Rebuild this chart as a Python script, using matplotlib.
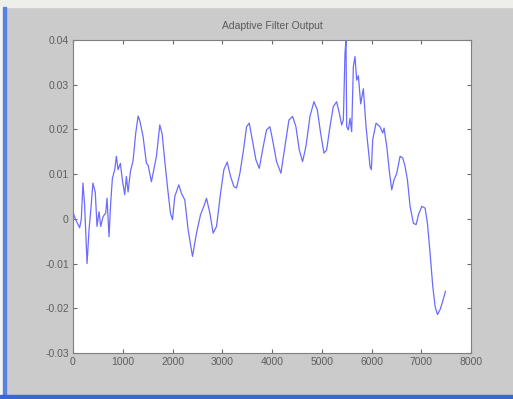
import matplotlib
matplotlib.use("Agg")
import matplotlib.pyplot as plt
from matplotlib.patches import Rectangle
import numpy as np

plt.rcParams['font.family'] = ['Liberation Sans', 'DejaVu Sans']

# samples
n = [0, 54, 134, 167, 200, 234, 282, 322, 369, 400, 447, 483, 523, 557, 604, 657, 684,
     724, 757, 791, 838, 872, 905, 952, 992, 1040, 1073, 1107, 1154, 1207, 1261, 1308,
     1341, 1408, 1476, 1509, 1576, 1623, 1677, 1744, 1791, 1844, 1898, 1958, 1999, 2046,
     2126, 2180, 2247, 2314, 2401, 2482, 2562, 2629, 2683, 2750, 2817, 2884, 2965, 3032,
     3099, 3166, 3233, 3286, 3354, 3421, 3488, 3542, 3602, 3676, 3743, 3823, 3890, 3957,
     4010, 4091, 4178, 4259, 4339, 4413, 4480, 4547, 4614, 4681, 4762, 4842, 4909, 4976,
     5043, 5097, 5164, 5231, 5298, 5352, 5399, 5433, 5466, 5486, 5500, 5533, 5567, 5600,
     5634, 5667, 5701, 5735, 5781, 5835, 5889, 5936, 5969, 5996, 6023, 6090, 6170, 6224,
     6251, 6305, 6358, 6405, 6452, 6506, 6573, 6627, 6674, 6721, 6774, 6841, 6895, 6942,
     7009, 7076, 7123, 7176, 7230, 7277, 7324, 7377, 7431, 7485]
y = [0.0015, -0.0002, -0.002, 0.0, 0.008, 0.003, -0.01, -0.0025, 0.0035, 0.008, 0.006,
     -0.0017, 0.0016, -0.0017, 0.0005, 0.0013, 0.0046, -0.004, 0.0035, 0.009, 0.011,
     0.014, 0.011, 0.0124, 0.0087, 0.0054, 0.0095, 0.006, 0.0106, 0.013, 0.0192, 0.023,
     0.022, 0.0184, 0.0124, 0.012, 0.0083, 0.011, 0.014, 0.021, 0.019, 0.013, 0.0072,
     0.0013, -0.0002, 0.005, 0.0076, 0.0057, 0.0042, -0.0025, -0.0084, -0.0032, 0.0009,
     0.0028, 0.0046, 0.0013, -0.0032, -0.0017, 0.0057, 0.011, 0.0127, 0.0095, 0.0072,
     0.0069, 0.0102, 0.015, 0.0206, 0.0214, 0.0177, 0.0132, 0.0113, 0.0162, 0.0199,
     0.0206, 0.0177, 0.0128, 0.0102, 0.0162, 0.0221, 0.0229, 0.0206, 0.0154, 0.0128,
     0.0162, 0.0229, 0.0262, 0.0244, 0.0192, 0.0147, 0.0154, 0.0206, 0.0251, 0.0262,
     0.0236, 0.021, 0.0221, 0.037, 0.04, 0.0206, 0.0199, 0.0225, 0.0195, 0.034, 0.0363,
     0.031, 0.032, 0.0257, 0.0291, 0.0206, 0.0154, 0.0117, 0.011, 0.0177, 0.0214, 0.0206,
     0.0192, 0.0203, 0.0162, 0.0106, 0.0065, 0.0087, 0.0102, 0.014, 0.0136, 0.0117,
     0.0087, 0.0028, -0.001, -0.0013, 0.0009, 0.0028, 0.0024, -0.001, -0.0077, -0.0151,
     -0.0196, -0.0214, -0.0203, -0.0184, -0.0162]

xticks = [0, 1000, 2000, 3000, 4000, 5000, 6000, 7000, 8000]
yticks = [-0.03, -0.02, -0.01, 0, 0.01, 0.02, 0.03, 0.04]
ylabels = ["-0.03", "-0.02", "-0.01", "0", "0.01", "0.02", "0.03", "0.04"]

fig = plt.figure(figsize=(5.13, 3.99), dpi=100, facecolor="#cbcbcb")

# window frame bits
fig.patches.append(Rectangle((0, 0.982), 1, 0.018, transform=fig.transFigure,
                             color="#eeeeea", zorder=0))
fig.patches.append(Rectangle((0, 0), 0.006, 0.982, transform=fig.transFigure,
                             color="#f4f4f4", zorder=0))
fig.patches.append(Rectangle((0.006, 0), 0.005, 0.982, transform=fig.transFigure,
                             color="#5a82dc", zorder=0))
fig.patches.append(Rectangle((0, 0), 1, 0.011, transform=fig.transFigure,
                             color="#3a66d6", zorder=0))

ax = fig.add_axes([0.1423, 0.1153, 0.776, 0.7845])
ax.plot(n, y, color="#6b6bff", lw=0.9)
ax.set_xlim(0, 8000)
ax.set_ylim(-0.03, 0.04)
ax.set_xticks(xticks)
ax.set_xticklabels([str(t) for t in xticks])
ax.set_yticks(yticks)
ax.set_yticklabels(ylabels)
ax.tick_params(direction="in", length=3, top=True, right=True, labelsize=7.5,
               colors="#6a6a6a", labelcolor="#5e5e5e", pad=3)
for s in ax.spines.values():
    s.set_color("#808080")
ax.set_title("Adaptive Filter Output", fontsize=7.5, color="#5a5a5a", pad=8)

fig.savefig("out.png", dpi=100, facecolor=fig.get_facecolor())
